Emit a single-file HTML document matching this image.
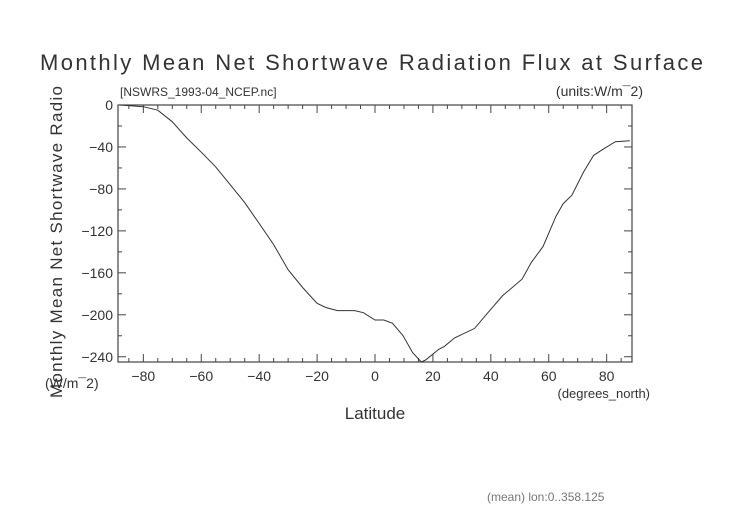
<!DOCTYPE html>
<html><head><meta charset="utf-8"><style>
html,body{margin:0;padding:0;background:#fff;}
svg{display:block;font-family:"Liberation Sans",sans-serif;}
</style></head><body>
<svg id="chart" width="752" height="532" viewBox="0 0 752 532">
<text x="40" y="70" font-size="22" fill="#333" textLength="663">Monthly Mean Net Shortwave Radiation Flux at Surface</text>
<text x="120" y="96" font-size="12" fill="#333">[NSWRS_1993-04_NCEP.nc]</text>
<text x="643" y="96" font-size="14" fill="#333" text-anchor="end">(units:W/m¯2)</text>
<text transform="translate(62,398) rotate(-90)" font-size="17" fill="#333" textLength="312">Monthly Mean Net Shortwave Radio</text>
<text x="45" y="388" font-size="14" fill="#333">(W/m¯2)</text>
<text x="650" y="398" font-size="13" fill="#333" text-anchor="end">(degrees_north)</text>
<text x="375" y="419" font-size="17" fill="#333" text-anchor="middle">Latitude</text>
<text x="487" y="501" font-size="12" fill="#777">(mean) lon:0..358.125</text>
<g id="axes"></g>
<g id="plot"></g>
</svg>
<script>
const lats = [-88,-80,-75,-70,-65,-60,-55,-50,-45,-40,-35,-30,-25,-20,-17,-13,-7,-4,0,3,6,9.7,13,16,17.5,22,24,27.5,34.4,39,44,50.8,54,58,62.5,65,68,72,75.5,78.3,83,88];
const flux = [0,-1.6,-5,-16,-31.5,-45,-59,-76,-93,-113,-133,-157,-174,-189,-193,-196,-196,-198,-205,-205,-208,-220,-236,-245,-243,-233,-230,-222,-213,-198,-182,-166,-150,-135,-106,-94,-86,-64,-48,-43,-35,-34];
const xTicks = [-80,-60,-40,-20,0,20,40,60,80];
const yTicks = [0,-40,-80,-120,-160,-200,-240];
const X0=118,X1=632,Y0=105,Y1=362,LMIN=-88.75,LMAX=88.75,VMAX=0,VMIN=-245;
const sx=v=>X0+(v-LMIN)/(LMAX-LMIN)*(X1-X0);
const sy=v=>Y0+(VMAX-v)/(VMAX-VMIN)*(Y1-Y0);
const NS="http://www.w3.org/2000/svg";
const axes=document.getElementById('axes'), plot=document.getElementById('plot');
function mk(tag,attrs,parent){const e=document.createElementNS(NS,tag);for(const k in attrs)e.setAttribute(k,attrs[k]);parent.appendChild(e);return e;}
const frame=mk('rect',{x:X0,y:Y0,width:X1-X0,height:Y1-Y0,fill:'none',stroke:'#444','stroke-width':1.2},axes);


for(let v=-85;v<=85;v+=5){
  const major=xTicks.includes(v);const L=major?8:4;const x=sx(v);
  const t1=mk('line',{x1:x,x2:x,y1:Y1,y2:Y1-L,stroke:'#444'},axes);
  
  
  const t2=mk('line',{x1:x,x2:x,y1:Y0,y2:Y0+L,stroke:'#444'},axes);
  
  
}
xTicks.forEach(v=>{
  const t=mk('text',{x:sx(v),y:Y1+19,'font-size':14,fill:'#333','text-anchor':'middle'},axes);
  t.textContent=String(v).replace('-','\u2212');
  
  
});
for(let v=0;v>=-240;v-=20){
  const major=yTicks.includes(v);const L=major?8:4;const y=sy(v);
  const t1=mk('line',{x1:X0,x2:X0+L,y1:y,y2:y,stroke:'#444'},axes);
  
  
  const t2=mk('line',{x1:X1,x2:X1-L,y1:y,y2:y,stroke:'#444'},axes);
  
  
}
yTicks.forEach(v=>{
  const t=mk('text',{x:X0-5,y:sy(v)+5,'font-size':14,fill:'#333','text-anchor':'end'},axes);
  t.textContent=String(v).replace('-','\u2212');
  
  
});
const d=lats.map((la,i)=>(i?'L':'M')+sx(la).toFixed(1)+','+sy(flux[i]).toFixed(1)).join('');
const line=mk('path',{d:d,fill:'none',stroke:'#333','stroke-width':1},plot);


</script>
</body></html>
